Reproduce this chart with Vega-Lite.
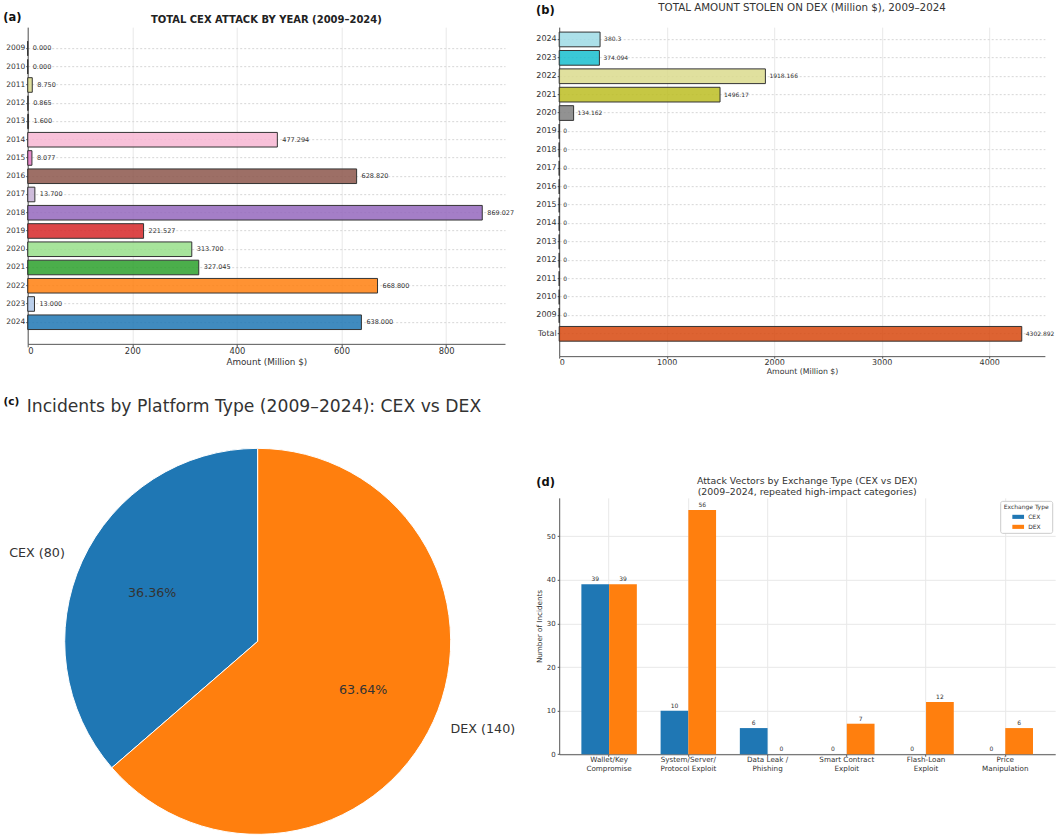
{
  "$schema": "https://vega.github.io/schema/vega-lite/v6.json",
  "background": "white",
  "padding": {"left": 2.7, "top": 2.15, "right": 0, "bottom": 0},
  "config": {
    "font": "DejaVu Sans",
    "view": {"stroke": null},
    "axis": {
      "labelFont": "DejaVu Sans", "titleFont": "DejaVu Sans", "titleFontWeight": "normal",
      "domainColor": "#555", "tickColor": "#555", "labelColor": "#333", "titleColor": "#333",
      "gridColor": "#e8e8e8", "domainWidth": 1, "tickWidth": 1
    },
    "title": {"font": "DejaVu Sans", "color": "#333"},
    "text": {"font": "DejaVu Sans"}
  },
  "spacing": 19.5,
  "resolve": {"scale": {"color": "independent"}},
  "hconcat": [
    {
      "spacing": 29.2,
      "resolve": {"scale": {"color": "independent", "y": "independent"}},
      "vconcat": [
        {
          "width": 477.3,
          "height": 316.7,
          "title": {"text": "TOTAL CEX ATTACK BY YEAR (2009–2024)", "fontSize": 10, "fontWeight": "bold", "color": "#222", "anchor": "middle", "offset": -13.7},
          "data": {"values": [
            {"Year": "2009", "Amount": 0},
            {"Year": "2010", "Amount": 0},
            {"Year": "2011", "Amount": 8.75},
            {"Year": "2012", "Amount": 0.865},
            {"Year": "2013", "Amount": 1.6},
            {"Year": "2014", "Amount": 477.294},
            {"Year": "2015", "Amount": 8.077},
            {"Year": "2016", "Amount": 628.82},
            {"Year": "2017", "Amount": 13.7},
            {"Year": "2018", "Amount": 869.027},
            {"Year": "2019", "Amount": 221.527},
            {"Year": "2020", "Amount": 313.7},
            {"Year": "2021", "Amount": 327.045},
            {"Year": "2022", "Amount": 668.8},
            {"Year": "2023", "Amount": 13.0},
            {"Year": "2024", "Amount": 638.0}
          ]},
          "encoding": {
            "y": {
              "field": "Year", "type": "nominal", "sort": "ascending",
              "scale": {"paddingInner": 0.2, "paddingOuter": 0.776, "align": 0.495},
              "axis": {
                "title": "(a)", "titleAngle": 0, "titleAlign": "left", "titleBaseline": "middle",
                "titleX": -25, "titleY": -10, "titleFontSize": 11.5, "titleFontWeight": "bold", "titleColor": "#111",
                "labelFontSize": 7.5, "tickSize": 2, "labelPadding": 1,
                "grid": true, "gridDash": [2, 2], "gridColor": "#d6d6d6", "bandPosition": 0.5
              }
            },
            "x": {
              "field": "Amount", "type": "quantitative",
              "scale": {"domain": [0, 912.5], "nice": false},
              "axis": {
                "title": "Amount (Million $)", "values": [0, 200, 400, 600, 800], "format": "d",
                "labelFontSize": 8.4, "titleFontSize": 8.8, "tickSize": 3, "labelPadding": 0, "titlePadding": 2
              }
            }
          },
          "layer": [
            {
              "mark": {"type": "bar", "fillOpacity": 0.85, "stroke": "#333", "strokeWidth": 1},
              "encoding": {
                "color": {
                  "field": "Year", "type": "nominal", "legend": null,
                  "scale": {
                    "domain": ["2009", "2010", "2011", "2012", "2013", "2014", "2015", "2016", "2017", "2018", "2019", "2020", "2021", "2022", "2023", "2024"],
                    "range": ["#9edae5", "#17becf", "#dbdb8d", "#c7c7c7", "#7f7f7f", "#f7b6d2", "#e377c2", "#8c564b", "#c5b0d5", "#9467bd", "#d62728", "#98df8a", "#2ca02c", "#ff7f0e", "#aec7e8", "#1f77b4"]
                  }
                }
              }
            },
            {
              "mark": {"type": "text", "align": "left", "baseline": "middle", "dx": 5, "fontSize": 6.5, "color": "#333"},
              "encoding": {"text": {"field": "Amount", "type": "quantitative", "format": ".3f"}}
            }
          ]
        },
        {
          "width": 460,
          "height": 386,
          "title": {
            "text": "Incidents by Platform Type (2009–2024): CEX vs DEX",
            "fontSize": 17.2, "fontWeight": "normal", "color": "#333",
            "anchor": "start", "frame": "group", "dx": -1, "offset": -19
          },
          "data": {"values": [
            {"Type": "CEX", "Incidents": 80, "Share": "36.36%", "Label": "CEX (80)"},
            {"Type": "DEX", "Incidents": 140, "Share": "63.64%", "Label": "DEX (140)"}
          ]},
          "layer": [
            {
              "mark": {"type": "point", "opacity": 0},
              "encoding": {
                "y": {
                  "field": "Type", "type": "nominal",
                  "axis": {
                    "title": "(c)", "labels": false, "ticks": false, "domain": false, "grid": false,
                    "titleAngle": 0, "titleAlign": "left", "titleBaseline": "middle",
                    "titleX": -24.7, "titleY": -47.3, "titleFontSize": 10.5, "titleFontWeight": "bold", "titleColor": "#111"
                  }
                }
              }
            },
            {
              "mark": {"type": "arc", "stroke": "white", "strokeWidth": 1},
              "encoding": {
                "theta": {"field": "Incidents", "type": "quantitative", "stack": true},
                "order": {"field": "Type", "type": "nominal", "sort": "descending"},
                "color": {"field": "Type", "type": "nominal", "legend": null,
                  "scale": {"domain": ["CEX", "DEX"], "range": ["#1f77b4", "#ff7f0e"]}}
              }
            },
            {
              "mark": {"type": "text", "radius": 212, "align": "right", "baseline": "middle", "fontSize": 12.7, "color": "#333"},
              "encoding": {
                "theta": {"field": "Incidents", "type": "quantitative", "stack": true},
                "order": {"field": "Type", "type": "nominal", "sort": "descending"},
                "text": {"condition": {"test": "datum.Type === 'CEX'", "field": "Label"}, "value": ""}
              }
            },
            {
              "mark": {"type": "text", "radius": 212, "align": "left", "baseline": "middle", "fontSize": 12.7, "color": "#333"},
              "encoding": {
                "theta": {"field": "Incidents", "type": "quantitative", "stack": true},
                "order": {"field": "Type", "type": "nominal", "sort": "descending"},
                "text": {"condition": {"test": "datum.Type === 'DEX'", "field": "Label"}, "value": ""}
              }
            },
            {
              "mark": {"type": "text", "radius": 116, "align": "center", "baseline": "middle", "fontSize": 12.7, "color": "#333"},
              "encoding": {
                "theta": {"field": "Incidents", "type": "quantitative", "stack": true},
                "order": {"field": "Type", "type": "nominal", "sort": "descending"},
                "text": {"field": "Share"}
              }
            }
          ]
        }
      ]
    },
    {
      "spacing": 99.7,
      "resolve": {"scale": {"color": "independent"}},
      "vconcat": [
        {
          "width": 485.7,
          "height": 329,
          "title": {"text": "TOTAL AMOUNT STOLEN ON DEX (Million $), 2009–2024", "fontSize": 10.3, "fontWeight": "normal", "color": "#333", "anchor": "middle", "offset": -9.2},
          "data": {"values": [
            {"Year": "2024", "Amount": 380.3},
            {"Year": "2023", "Amount": 374.094},
            {"Year": "2022", "Amount": 1918.166},
            {"Year": "2021", "Amount": 1496.17},
            {"Year": "2020", "Amount": 134.162},
            {"Year": "2019", "Amount": 0},
            {"Year": "2018", "Amount": 0},
            {"Year": "2017", "Amount": 0},
            {"Year": "2016", "Amount": 0},
            {"Year": "2015", "Amount": 0},
            {"Year": "2014", "Amount": 0},
            {"Year": "2013", "Amount": 0},
            {"Year": "2012", "Amount": 0},
            {"Year": "2011", "Amount": 0},
            {"Year": "2010", "Amount": 0},
            {"Year": "2009", "Amount": 0},
            {"Year": "Total", "Amount": 4302.892}
          ]},
          "encoding": {
            "y": {
              "field": "Year", "type": "nominal", "sort": null,
              "scale": {"paddingInner": 0.2, "paddingOuter": 0.541, "align": 0.248},
              "axis": {
                "title": "(b)", "titleAngle": 0, "titleAlign": "left", "titleBaseline": "middle",
                "titleX": -23.6, "titleY": -17, "titleFontSize": 11.5, "titleFontWeight": "bold", "titleColor": "#111",
                "labelFontSize": 8, "tickSize": 2, "labelPadding": 1,
                "grid": true, "gridDash": [2, 2], "gridColor": "#d6d6d6", "bandPosition": 0.5
              }
            },
            "x": {
              "field": "Amount", "type": "quantitative",
              "scale": {"domain": [0, 4518], "nice": false},
              "axis": {
                "title": "Amount (Million $)", "values": [0, 1000, 2000, 3000, 4000], "format": "d",
                "labelFontSize": 8, "titleFontSize": 7.8, "tickSize": 2, "labelPadding": 0, "titlePadding": 1
              }
            }
          },
          "layer": [
            {
              "mark": {"type": "bar", "fillOpacity": 0.85, "stroke": "#333", "strokeWidth": 1},
              "encoding": {
                "color": {
                  "field": "Year", "type": "nominal", "legend": null,
                  "scale": {
                    "domain": ["2024", "2023", "2022", "2021", "2020", "2019", "2018", "2017", "2016", "2015", "2014", "2013", "2012", "2011", "2010", "2009", "Total"],
                    "range": ["#9edae5", "#17becf", "#dbdb8d", "#bcbd22", "#7f7f7f", "#c7c7c7", "#e377c2", "#8c564b", "#c5b0d5", "#9467bd", "#d62728", "#98df8a", "#2ca02c", "#ffbb78", "#aec7e8", "#1f77b4", "#d7480e"]
                  }
                }
              }
            },
            {
              "mark": {"type": "text", "align": "left", "baseline": "middle", "dx": 4, "fontSize": 6, "color": "#333"},
              "encoding": {"text": {"field": "Amount", "type": "quantitative", "format": ".3~f"}}
            }
          ]
        },
        {
          "width": 496,
          "height": 256.4,
          "title": {
            "text": ["Attack Vectors by Exchange Type (CEX vs DEX)", "(2009–2024, repeated high-impact categories)"],
            "fontSize": 9.4, "lineHeight": 11, "fontWeight": "normal", "color": "#333", "anchor": "middle", "offset": -21
          },
          "data": {"values": [
            {"Vector": "Wallet/Key\nCompromise", "Exchange": "CEX", "Incidents": 39},
            {"Vector": "Wallet/Key\nCompromise", "Exchange": "DEX", "Incidents": 39},
            {"Vector": "System/Server/\nProtocol Exploit", "Exchange": "CEX", "Incidents": 10},
            {"Vector": "System/Server/\nProtocol Exploit", "Exchange": "DEX", "Incidents": 56},
            {"Vector": "Data Leak /\nPhishing", "Exchange": "CEX", "Incidents": 6},
            {"Vector": "Data Leak /\nPhishing", "Exchange": "DEX", "Incidents": 0},
            {"Vector": "Smart Contract\nExploit", "Exchange": "CEX", "Incidents": 0},
            {"Vector": "Smart Contract\nExploit", "Exchange": "DEX", "Incidents": 7},
            {"Vector": "Flash-Loan\nExploit", "Exchange": "CEX", "Incidents": 0},
            {"Vector": "Flash-Loan\nExploit", "Exchange": "DEX", "Incidents": 12},
            {"Vector": "Price\nManipulation", "Exchange": "CEX", "Incidents": 0},
            {"Vector": "Price\nManipulation", "Exchange": "DEX", "Incidents": 6}
          ]},
          "encoding": {
            "x": {
              "field": "Vector", "type": "nominal", "sort": null,
              "scale": {"paddingInner": 0.3, "paddingOuter": 0.28},
              "axis": {
                "title": "(d)", "titleAngle": 0, "titleAlign": "left", "titleBaseline": "middle",
                "titleX": -23.5, "titleY": -272, "titleFontSize": 11.5, "titleFontWeight": "bold", "titleColor": "#111",
                "labelAngle": 0, "labelExpr": "split(datum.label, '\\n')", "labelFontSize": 7.2, "labelLineHeight": 9,
                "labelPadding": -1, "tickSize": 2, "grid": true, "bandPosition": 0.5
              }
            },
            "xOffset": {"field": "Exchange", "type": "nominal", "sort": ["CEX", "DEX"]},
            "y": {
              "field": "Incidents", "type": "quantitative",
              "scale": {"domain": [0, 58.8], "nice": false},
              "axis": {
                "title": "Number of Incidents", "values": [0, 10, 20, 30, 40, 50],
                "labelFontSize": 7, "titleFontSize": 7.2, "tickSize": 2, "labelPadding": 2, "titlePadding": 3
              }
            }
          },
          "layer": [
            {
              "mark": {"type": "bar"},
              "encoding": {
                "color": {
                  "field": "Exchange", "type": "nominal",
                  "scale": {"domain": ["CEX", "DEX"], "range": ["#1f77b4", "#ff7f0e"]},
                  "legend": {
                    "title": "Exchange Type", "orient": "top-right", "offset": 3,
                    "titleFontSize": 6, "titleFontWeight": "normal", "titleColor": "#333", "titleAnchor": "middle", "titlePadding": 1,
                    "labelFontSize": 6, "labelColor": "#333", "labelOffset": 4,
                    "symbolType": "M-1,-0.35H1V0.35H-1Z", "symbolSize": 137, "symbolStrokeWidth": 0,
                    "rowPadding": 1, "padding": 3, "strokeColor": "#cccccc", "fillColor": "white", "cornerRadius": 2
                  }
                }
              }
            },
            {
              "mark": {"type": "text", "baseline": "bottom", "dy": -2, "fontSize": 6, "color": "#333"},
              "encoding": {"text": {"field": "Incidents", "type": "quantitative"}}
            }
          ]
        }
      ]
    }
  ]
}
